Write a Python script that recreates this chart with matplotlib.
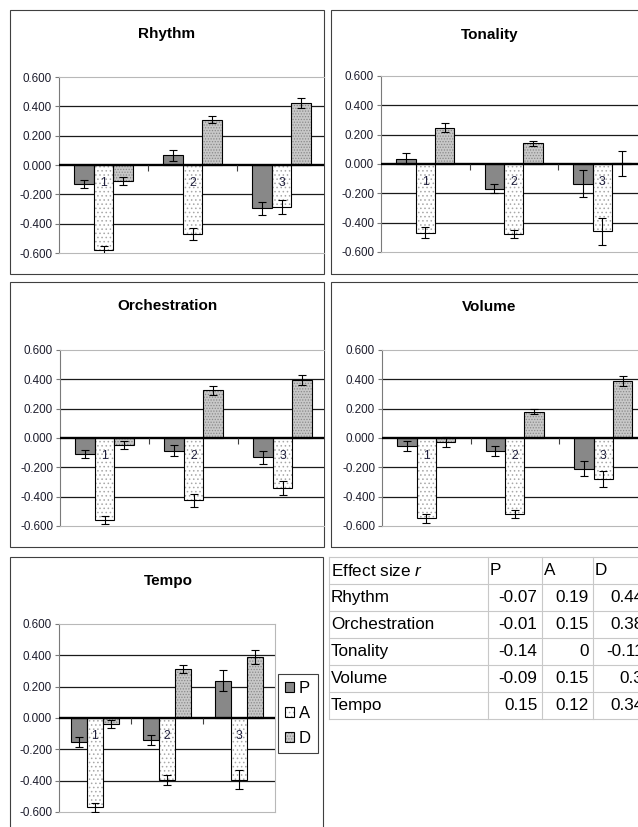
import numpy as np
import matplotlib
matplotlib.use('Agg')
import matplotlib.pyplot as plt
from matplotlib.patches import Rectangle
from matplotlib.lines import Line2D
from matplotlib.transforms import offset_copy

plt.rcParams['font.family'] = ['Liberation Sans', 'DejaVu Sans']
plt.rcParams['mathtext.fontset'] = 'custom'
plt.rcParams['mathtext.it'] = 'Liberation Sans:italic'
plt.rcParams['mathtext.rm'] = 'Liberation Sans'
plt.rcParams['hatch.linewidth'] = 0.6

# ---------------- data ----------------
categories = ['1', '2', '3']
series_names = ['P', 'A', 'D']
y_ticks = [-0.6, -0.4, -0.2, 0, 0.2, 0.4, 0.6]

rhythm_P = [-0.13, 0.065, -0.295]
rhythm_A = [-0.58, -0.47, -0.286]
rhythm_D = [-0.11, 0.31, 0.42]
rhythm_P_err = [0.03, 0.04, 0.043]
rhythm_A_err = [0.03, 0.04, 0.045]
rhythm_D_err = [0.027, 0.024, 0.034]

tonality_P = [0.036, -0.168, -0.136]
tonality_A = [-0.468, -0.475, -0.459]
tonality_D = [0.248, 0.141, 0.005]
tonality_P_err = [0.036, 0.03, 0.092]
tonality_A_err = [0.039, 0.028, 0.093]
tonality_D_err = [0.032, 0.018, 0.084]

orch_P = [-0.111, -0.086, -0.131]
orch_A = [-0.561, -0.426, -0.344]
orch_D = [-0.048, 0.326, 0.396]
orch_P_err = [0.028, 0.04, 0.045]
orch_A_err = [0.027, 0.043, 0.048]
orch_D_err = [0.027, 0.03, 0.035]

volume_P = [-0.054, -0.09, -0.208]
volume_A = [-0.548, -0.518, -0.281]
volume_D = [-0.027, 0.179, 0.389]
volume_P_err = [0.036, 0.033, 0.05]
volume_A_err = [0.032, 0.028, 0.053]
volume_D_err = [0.032, 0.018, 0.033]

tempo_P = [-0.153, -0.141, 0.239]
tempo_A = [-0.571, -0.394, -0.394]
tempo_D = [-0.038, 0.311, 0.388]
tempo_P_err = [0.031, 0.032, 0.068]
tempo_A_err = [0.028, 0.031, 0.062]
tempo_D_err = [0.028, 0.025, 0.044]

table_header = 'Effect size $r$'
table_rows = ['Rhythm', 'Orchestration', 'Tonality', 'Volume', 'Tempo']
table_P = [-0.07, -0.01, -0.14, -0.09, 0.15]
table_A = [0.19, 0.15, 0, 0.15, 0.12]
table_D = [0.44, 0.38, -0.11, 0.3, 0.34]

# ---------------- layout helpers ----------------
W, H = 638, 827
fig = plt.figure(figsize=(W / 100, H / 100), dpi=100)


def fx(x):
    return x / W


def fy(y):
    return 1 - y / H


def rect(l, t, r, b):
    return [l / W, 1 - b / H, (r - l) / W, (b - t) / H]


styles = {
    'P': dict(face='#888888', hatch=None, hcolor='#888888'),
    'A': dict(face='white', hatch='....', hcolor='#a8a8a8'),
    'D': dict(face='#c8c8c8', hatch='......', hcolor='#8a8a8a'),
}

panels = [
    dict(title='Rhythm', vals=[rhythm_P, rhythm_A, rhythm_D],
         errs=[rhythm_P_err, rhythm_A_err, rhythm_D_err],
         box=(10, 10, 324, 274), plot=(59, 77, 324, 253), catw=89, tpos=(167, 34), rspine=False),
    dict(title='Tonality', vals=[tonality_P, tonality_A, tonality_D],
         errs=[tonality_P_err, tonality_A_err, tonality_D_err],
         box=(331, 10, 649, 274), plot=(381, 76, 638, 252), catw=88.5, tpos=(490, 35), rspine=False),
    dict(title='Orchestration', vals=[orch_P, orch_A, orch_D],
         errs=[orch_P_err, orch_A_err, orch_D_err],
         box=(10, 282, 324, 547), plot=(60, 350, 324, 526), catw=89, tpos=(167, 306), rspine=False),
    dict(title='Volume', vals=[volume_P, volume_A, volume_D],
         errs=[volume_P_err, volume_A_err, volume_D_err],
         box=(331, 282, 649, 547), plot=(382, 350, 638, 526), catw=88.5, tpos=(489, 307), rspine=False),
    dict(title='Tempo', vals=[tempo_P, tempo_A, tempo_D],
         errs=[tempo_P_err, tempo_A_err, tempo_D_err],
         box=(10, 557, 323, 840), plot=(59, 624, 275, 812), catw=72, tpos=(168, 581), rspine=True),
]

bar_w = 0.22
offsets = [-bar_w, 0, bar_w]
legend_handles = None

for p in panels:
    x0, y0, x1, y1 = p['box']
    fig.add_artist(Rectangle((fx(x0), fy(y1)), (x1 - x0) / W, (y1 - y0) / H,
                             transform=fig.transFigure, fill=False,
                             edgecolor='#404040', lw=0.8, zorder=0))
    fig.text(fx(p['tpos'][0]), fy(p['tpos'][1]), p['title'], ha='center', va='center',
             fontsize=11, fontweight='bold', color='black')

    l, t, r, b = p['plot']
    ax = fig.add_axes(rect(l, t, r, b))
    x = np.arange(1, len(categories) + 1)
    handles = []
    for s, off, vals, errs in zip(series_names, offsets, p['vals'], p['errs']):
        st = styles[s]
        fill = ax.bar(x + off, vals, width=bar_w, color=st['face'], edgecolor=st['hcolor'],
                      hatch=st['hatch'], linewidth=0, zorder=2)
        edge = ax.bar(x + off, vals, width=bar_w, fill=False, edgecolor='black',
                      linewidth=0.8, zorder=2.1)
        ax.errorbar(x + off, vals, yerr=errs, fmt='none', ecolor='black',
                    elinewidth=0.8, capsize=2.6, capthick=0.8, zorder=5)
        handles.append((fill.patches[0], edge.patches[0]))
    legend_handles = handles

    ax.set_xlim(0.5, 0.5 + (r - l) / p['catw'])
    ax.set_ylim(y_ticks[0], y_ticks[-1])
    ax.set_yticks(y_ticks)
    ax.set_yticklabels([f'{v:.3f}' for v in y_ticks])
    for v in y_ticks[1:-1]:
        if v != 0:
            ax.axhline(v, color='#1a1a1a', lw=0.9, zorder=0.5)
    ax.axhline(0, color='black', lw=1.7, zorder=3)
    # category boundary ticks below the zero axis
    ax.vlines(x[:-1] + 0.5, -0.04, 0, color='#404040', lw=0.8, zorder=3)
    lab_tr = offset_copy(ax.transData, fig=fig, x=0, y=-18, units='dots')
    for xi, c in zip(x, categories):
        ax.text(xi, 0, c, ha='center', va='center', fontsize=8.8, color='#1e1e3c',
                transform=lab_tr, zorder=6)

    for sp in ['top', 'bottom', 'right']:
        ax.spines[sp].set_color('#b8b8b8')
        ax.spines[sp].set_linewidth(0.8)
    ax.spines['right'].set_visible(p['rspine'])
    ax.spines['left'].set_color('#7a7a7a')
    ax.spines['left'].set_linewidth(0.8)
    ax.tick_params(axis='y', length=3, width=0.8, color='#7a7a7a', pad=2,
                   labelsize=8.4, labelcolor='#1e1e2e')
    ax.tick_params(axis='x', bottom=False, labelbottom=False)
    ax.set_facecolor('white')

# legend
leg = fig.legend(legend_handles, series_names, loc='upper left',
                 bbox_to_anchor=(fx(278), fy(674)), bbox_transform=fig.transFigure,
                 frameon=True, fancybox=False, edgecolor='#404040', framealpha=1,
                 fontsize=12, handlelength=0.55, handleheight=0.55, handletextpad=0.3,
                 labelspacing=0.62, borderpad=0.4, borderaxespad=0)
leg.get_frame().set_linewidth(0.8)

# table
col_div = [329, 488, 542, 593, 648]
row_top, row_h = 557, 27
n_rows = len(table_rows) + 1
grid_c = '#c8c8c8'
for k in range(n_rows + 1):
    yy = row_top + k * row_h
    fig.add_artist(Line2D([fx(col_div[0]), fx(col_div[-1])], [fy(yy), fy(yy)],
                          transform=fig.transFigure, color=grid_c, lw=0.8))
for xx in col_div:
    fig.add_artist(Line2D([fx(xx), fx(xx)], [fy(row_top), fy(row_top + n_rows * row_h)],
                          transform=fig.transFigure, color=grid_c, lw=0.8))

tfs = 12.3
fig.text(fx(331), fy(row_top + row_h / 2), table_header, ha='left', va='center', fontsize=tfs)
for j, s in enumerate(series_names):
    fig.text(fx(col_div[j + 1] + 1.5), fy(row_top + row_h / 2), s, ha='left', va='center', fontsize=tfs)
for i, name in enumerate(table_rows):
    yc = row_top + (i + 1) * row_h + row_h / 2
    fig.text(fx(331), fy(yc), name, ha='left', va='center', fontsize=tfs)
    for j, col in enumerate([table_P, table_A, table_D]):
        fig.text(fx(col_div[j + 2] - 4.5), fy(yc), f'{col[i]:g}', ha='right', va='center', fontsize=tfs)

fig.savefig('out.png', dpi=100, facecolor='white')
